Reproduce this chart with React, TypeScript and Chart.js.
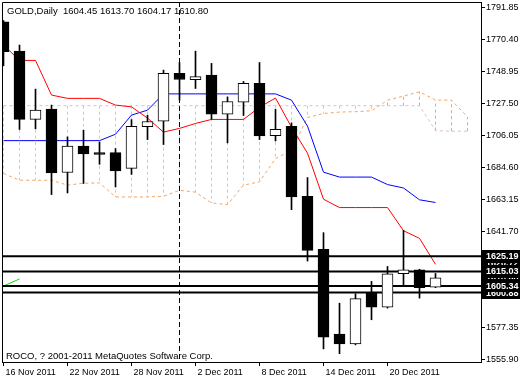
import { useEffect, useRef } from "react";
import { Chart, registerables } from "chart.js";

Chart.register(...registerables);

const barDates = [
  "16 Nov 2011", "17 Nov 2011", "18 Nov 2011", "21 Nov 2011", "22 Nov 2011", "23 Nov 2011", "24 Nov 2011",
  "25 Nov 2011", "28 Nov 2011", "29 Nov 2011", "30 Nov 2011", "1 Dec 2011", "2 Dec 2011", "5 Dec 2011",
  "6 Dec 2011", "7 Dec 2011", "8 Dec 2011", "9 Dec 2011", "12 Dec 2011", "13 Dec 2011", "14 Dec 2011",
  "15 Dec 2011", "16 Dec 2011", "19 Dec 2011", "20 Dec 2011", "21 Dec 2011", "22 Dec 2011", "23 Dec 2011",
];

const opens = [
  1782.2, 1762.5, 1716.8, 1723.7, 1681.3, 1698.9, 1694.6, 1694.6, 1684.0, 1712.0, 1715.6, 1747.6, 1743.4, 1746.4,
  1720.3, 1728.3, 1741.0, 1706.0, 1712.2, 1665.3, 1629.8, 1573.2, 1566.6, 1600.5, 1591.1, 1613.5, 1616.2, 1604.45,
];
const highs = [
  1783.0, 1766.6, 1737.1, 1726.4, 1705.1, 1709.6, 1701.7, 1697.3, 1716.7, 1719.6, 1749.8, 1754.9, 1762.5, 1754.3,
  1731.9, 1742.2, 1754.9, 1723.6, 1714.5, 1677.9, 1641.0, 1593.8, 1600.1, 1608.4, 1618.4, 1642.5, 1616.5, 1613.7,
];
const lows = [
  1752.7, 1710.1, 1710.5, 1666.5, 1667.6, 1673.9, 1686.8, 1671.6, 1680.0, 1703.3, 1700.0, 1729.7, 1737.5, 1716.9,
  1701.1, 1719.4, 1703.3, 1702.4, 1656.4, 1622.0, 1563.2, 1560.0, 1565.9, 1582.7, 1590.5, 1605.2, 1597.2, 1604.17,
];
const closes = [
  1762.1, 1716.8, 1723.0, 1681.0, 1698.9, 1693.7, 1693.3, 1682.3, 1712.2, 1715.4, 1747.6, 1743.5, 1745.4, 1720.3,
  1728.8, 1740.9, 1705.7, 1710.1, 1665.0, 1629.1, 1571.0, 1566.6, 1596.8, 1591.1, 1613.5, 1616.2, 1604.1, 1610.8,
];

const tenkan = [
  1766.6, 1756.3, 1756.3, 1733.1, 1730.9, 1730.9, 1730.9, 1726.4, 1725.2, 1717.7, 1708.3, 1710.8, 1714.1, 1716.8,
  1716.8, 1716.8, 1725.0, 1731.1, 1711.6, 1694.2, 1663.4, 1657.8, 1657.8, 1657.8, 1657.8, 1642.3, 1637.2, 1619.8,
];
const kijun = [
  1702.6, 1702.6, 1702.6, 1702.6, 1702.6, 1702.6, 1702.6, 1706.9, 1719.7, 1723.0, 1733.9, 1733.9, 1733.9, 1733.9,
  1733.9, 1733.9, 1733.9, 1733.9, 1729.7, 1712.3, 1681.5, 1678.2, 1678.2, 1678.2, 1673.2, 1670.9, 1663.0, 1661.2,
];
const senkouA = [
  1680.6, 1676.1, 1676.1, 1676.1, 1672.8, 1674.1, 1674.3, 1664.9, 1664.9, 1664.9, 1665.4, 1669.4, 1668.1, 1660.9,
  1659.8, 1672.8, 1675.0, 1690.6, 1696.2, 1718.1, 1720.8, 1721.7, 1722.0, 1722.6, 1729.7, 1732.4, 1735.3, 1729.7,
  1729.7, 1718.5,
];
const senkouB = [
  1726.0, 1726.0, 1726.0, 1726.0, 1726.0, 1726.0, 1726.0, 1726.0, 1726.0, 1726.0, 1726.0, 1726.0, 1726.0, 1726.0,
  1726.0, 1726.0, 1726.0, 1726.0, 1726.0, 1726.0, 1726.0, 1726.0, 1726.0, 1726.0, 1726.0, 1726.0, 1726.0, 1709.3,
  1708.9, 1708.9,
];
const chikou = [1605.3, 1610.0];

const hLevels = [1625.19, 1615.03, 1605.34, 1600.88];
const priceTags = [1620.72, 1610.8, 1600.88, 1605.34, 1615.03, 1625.19];
const yTickValues = [
  1555.9, 1577.35, 1598.8, 1620.25, 1641.7, 1663.15, 1684.6, 1706.05, 1727.5, 1748.95, 1770.4, 1791.85,
];
const xTickDates = ["16 Nov 2011", "22 Nov 2011", "28 Nov 2011", "2 Dec 2011", "8 Dec 2011", "14 Dec 2011", "20 Dec 2011"];
const markerDate = "1 Dec 2011";
const titleText = "GOLD,Daily  1604.45 1613.70 1604.17 1610.80";
const copyrightText = "ROCO, ? 2001-2011 MetaQuotes Software Corp.";

const Y_MIN = 1554.43;
const Y_MAX = 1795.4;
const X_MIN = -0.09375;
const X_MAX = 29.84375;

const ORANGE = "#F4A460";
const THISTLE = "#D8BFD8";
const FONT = "'Liberation Sans', Arial, sans-serif";

const overlayPlugin = {
  id: "mt4overlay",
  beforeDatasetsDraw(chart: any) {
    const { ctx, chartArea: a, scales } = chart;
    const x = scales.x;
    const y = scales.y;
    ctx.save();
    ctx.beginPath();
    ctx.rect(a.left, a.top, a.right - a.left, a.bottom - a.top);
    ctx.clip();
    ctx.lineWidth = 1;
    ctx.setLineDash([3, 3]);
    senkouA.forEach((va, i) => {
      const vb = senkouB[i];
      const px = Math.floor(x.getPixelForValue(i)) + 0.5;
      ctx.strokeStyle = va > vb ? ORANGE : THISTLE;
      ctx.beginPath();
      ctx.moveTo(px, y.getPixelForValue(vb));
      ctx.lineTo(px, y.getPixelForValue(va));
      ctx.stroke();
    });
    const mi = barDates.indexOf(markerDate);
    const mx = Math.floor(x.getPixelForValue(mi)) + 0.5;
    ctx.strokeStyle = "#000";
    ctx.setLineDash([5, 3]);
    ctx.beginPath();
    ctx.moveTo(mx, a.top);
    ctx.lineTo(mx, a.bottom);
    ctx.stroke();
    ctx.restore();
  },
  afterDraw(chart: any) {
    const { ctx, chartArea: a, scales } = chart;
    const y = scales.y;
    ctx.save();
    ctx.strokeStyle = "#000";
    ctx.lineWidth = 1;
    ctx.setLineDash([]);
    ctx.beginPath();
    ctx.moveTo(a.left + 0.5, a.bottom);
    ctx.lineTo(a.left + 0.5, a.top + 0.5);
    ctx.lineTo(a.right, a.top + 0.5);
    ctx.stroke();

    ctx.fillStyle = "#000";
    ctx.font = `9.5px ${FONT}`;
    ctx.textBaseline = "alphabetic";
    ctx.textAlign = "left";
    ctx.fillText(titleText, 7, 14);
    ctx.fillText(copyrightText, 6, 358.5);

    ctx.font = `bold 9px ${FONT}`;
    ctx.textBaseline = "middle";
    priceTags.forEach((v) => {
      const py = y.getPixelForValue(v);
      ctx.fillStyle = "#000";
      ctx.fillRect(a.right + 1, Math.round(py - 6.5), 520 - a.right - 1, 13);
      ctx.fillStyle = "#fff";
      ctx.fillText(v.toFixed(2), a.right + 5, py + 0.5);
    });
    ctx.restore();
  },
};

export default function App() {
  const ref = useRef<HTMLCanvasElement | null>(null);

  useEffect(() => {
    if (!ref.current) return;
    Chart.defaults.font.family = FONT;
    Chart.defaults.color = "#000";
    const idx = barDates.map((_, i) => i);
    const xTickIdx = xTickDates.map((d) => barDates.indexOf(d));
    const lineBase = { type: "line", pointRadius: 0, borderWidth: 1, fill: false, tension: 0, clip: 0 } as any;

    const chart = new Chart(ref.current, {
      type: "bar",
      data: {
        datasets: [
          {
            type: "bar",
            label: "body",
            data: idx.map((i) => ({ x: i, y: [opens[i], closes[i]] })),
            backgroundColor: idx.map((i) => (closes[i] < opens[i] ? "#000" : "#fff")),
            borderColor: "#000",
            borderWidth: 1,
            borderSkipped: false,
            barThickness: 11,
            grouped: false,
            clip: 0,
            order: 0,
          } as any,
          {
            type: "bar",
            label: "wick",
            data: idx.map((i) => ({ x: i, y: [lows[i], highs[i]] })),
            backgroundColor: "#000",
            borderWidth: 0,
            barThickness: 1,
            grouped: false,
            clip: 0,
            order: 1,
          } as any,
          ...hLevels.map((v, k) => ({
            ...lineBase,
            label: "level" + k,
            data: [{ x: X_MIN - 1, y: v }, { x: X_MAX + 1, y: v }],
            borderColor: "#000",
            borderWidth: 2,
            order: 2,
          })),
          { ...lineBase, label: "Tenkan", data: tenkan.map((v, i) => ({ x: i, y: v })), borderColor: "#FF0000", order: 3 },
          { ...lineBase, label: "Kijun", data: kijun.map((v, i) => ({ x: i, y: v })), borderColor: "#0000FF", order: 4 },
          { ...lineBase, label: "Chikou", data: chikou.map((v, i) => ({ x: i, y: v })), borderColor: "#00E000", order: 5 },
          {
            ...lineBase,
            label: "SenkouA",
            data: senkouA.map((v, i) => ({ x: i, y: v })),
            borderColor: ORANGE,
            borderDash: [3, 3],
            order: 6,
          },
          {
            ...lineBase,
            label: "SenkouB",
            data: senkouB.map((v, i) => ({ x: i, y: v })),
            borderColor: THISTLE,
            borderDash: [3, 3],
            order: 7,
          },
        ],
      },
      options: {
        responsive: false,
        animation: false,
        events: [],
        devicePixelRatio: 1,
        layout: { padding: { left: 2, top: 2, right: 0, bottom: 0 } },
        plugins: { legend: { display: false }, tooltip: { enabled: false }, title: { display: false } },
        scales: {
          x: {
            type: "linear",
            min: X_MIN,
            max: X_MAX,
            offset: false,
            afterBuildTicks: (s: any) => {
              s.ticks = xTickIdx.map((v) => ({ value: v }));
            },
            afterFit: (s: any) => {
              s.height = 18;
              s.paddingLeft = 0;
              s.paddingRight = 0;
              s.paddingTop = 0;
              s.paddingBottom = 0;
            },
            ticks: {
              autoSkip: false,
              maxRotation: 0,
              align: "start",
              labelOffset: 2,
              padding: 1,
              font: { size: 9, family: FONT },
              color: "#000",
              callback: (v: any) => barDates[Math.round(Number(v))] ?? "",
            },
            grid: { offset: false, drawOnChartArea: false, drawTicks: true, tickLength: 4, color: "#000" },
            border: { display: true, color: "#000", width: 1 },
          },
          y: {
            type: "linear",
            position: "right",
            min: Y_MIN,
            max: Y_MAX,
            afterBuildTicks: (s: any) => {
              s.ticks = yTickValues.map((v) => ({ value: v }));
            },
            afterFit: (s: any) => {
              s.width = 39;
              s.paddingLeft = 0;
              s.paddingRight = 0;
              s.paddingTop = 0;
              s.paddingBottom = 0;
            },
            ticks: {
              autoSkip: false,
              padding: 1,
              font: { size: 9, family: FONT },
              color: "#000",
              callback: (v: any) => Number(v).toFixed(2),
            },
            grid: { drawOnChartArea: false, drawTicks: true, tickLength: 4, color: "#000" },
            border: { display: true, color: "#000", width: 1 },
          },
        },
      } as any,
      plugins: [overlayPlugin],
    });
    return () => chart.destroy();
  }, []);

  return (
    <div style={{ position: "absolute", left: 0, top: 0, width: 520, height: 380, background: "#fff" }}>
      <canvas ref={ref} width={520} height={380} style={{ display: "block" }} />
    </div>
  );
}
